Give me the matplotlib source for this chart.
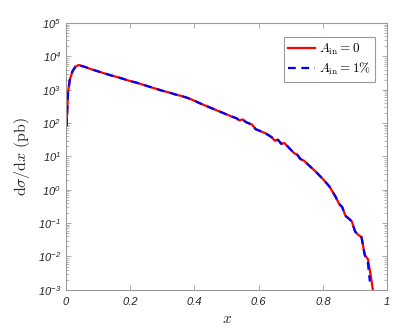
import numpy as np
import matplotlib
matplotlib.use('Agg')
import matplotlib.pyplot as plt
from matplotlib.ticker import LogLocator, FixedLocator

# 坐标轴刻度数字用斜体无衬线字体，轴标题用cm字体
plt.rcParams['mathtext.fontset'] = 'custom'
plt.rcParams['mathtext.rm'] = 'Liberation Sans:italic'
plt.rcParams['mathtext.it'] = 'Liberation Sans:italic'
plt.rcParams['font.family'] = 'Liberation Sans'

# 数据：x 与 log10(dσ/dx)
x_red = [0.002, 0.006, 0.012, 0.02, 0.03, 0.04, 0.06, 0.08, 0.10, 0.12, 0.14, 0.16, 0.18,
         0.20, 0.22, 0.24, 0.26, 0.28, 0.30, 0.32, 0.34, 0.36, 0.38, 0.40, 0.42, 0.44,
         0.46, 0.48, 0.50, 0.52, 0.53, 0.54, 0.55, 0.56, 0.58, 0.59, 0.60, 0.62, 0.64,
         0.65, 0.66, 0.67, 0.68, 0.70, 0.71, 0.72, 0.73, 0.74, 0.76, 0.78, 0.80, 0.82,
         0.84, 0.85, 0.86, 0.87, 0.88, 0.89, 0.90, 0.91, 0.92, 0.93, 0.94, 0.95, 0.957]
logy_red = [1.95, 2.9, 3.3, 3.55, 3.7, 3.74, 3.68, 3.61, 3.55, 3.49, 3.43, 3.38, 3.32,
            3.26, 3.21, 3.15, 3.09, 3.03, 2.97, 2.92, 2.86, 2.81, 2.75, 2.67, 2.58, 2.50,
            2.42, 2.34, 2.26, 2.18, 2.15, 2.08, 2.11, 2.03, 1.95, 1.82, 1.78, 1.70, 1.58,
            1.47, 1.50, 1.38, 1.40, 1.20, 1.10, 1.05, 0.92, 0.88, 0.70, 0.52, 0.32, 0.10,
            -0.22, -0.42, -0.52, -0.78, -0.86, -0.95, -1.25, -1.35, -1.42, -1.95, -2.08,
            -2.65, -3.1]
x_blue = [0.002, 0.006, 0.012, 0.02, 0.03, 0.04, 0.06, 0.08, 0.10, 0.12, 0.14, 0.16, 0.18,
          0.20, 0.22, 0.24, 0.26, 0.28, 0.30, 0.32, 0.34, 0.36, 0.38, 0.40, 0.42, 0.44,
          0.46, 0.48, 0.50, 0.52, 0.53, 0.54, 0.55, 0.56, 0.58, 0.59, 0.60, 0.62, 0.64,
          0.65, 0.66, 0.67, 0.68, 0.70, 0.71, 0.72, 0.73, 0.74, 0.76, 0.78, 0.80, 0.82,
          0.84, 0.85, 0.86, 0.87, 0.88, 0.89, 0.90, 0.91, 0.92, 0.93, 0.94, 0.946]
logy_blue = [1.9, 2.9, 3.3, 3.55, 3.7, 3.74, 3.68, 3.61, 3.55, 3.49, 3.43, 3.38, 3.32,
             3.26, 3.21, 3.15, 3.09, 3.03, 2.97, 2.92, 2.86, 2.81, 2.75, 2.67, 2.58, 2.50,
             2.42, 2.34, 2.26, 2.18, 2.15, 2.08, 2.11, 2.03, 1.95, 1.82, 1.78, 1.70, 1.58,
             1.47, 1.50, 1.38, 1.40, 1.20, 1.10, 1.05, 0.92, 0.88, 0.70, 0.52, 0.32, 0.10,
             -0.22, -0.42, -0.52, -0.78, -0.86, -0.95, -1.25, -1.35, -1.42, -1.95, -2.2,
             -2.75]

x_ticks = [0, 0.2, 0.4, 0.6, 0.8, 1]
x_ticklabels = ['0', '0.2', '0.4', '0.6', '0.8', '1']
y_exps = [-3, -2, -1, 0, 1, 2, 3, 4, 5]

gray = '#262626'
axcol = '#9a9a9a'

fig = plt.figure(figsize=(4.15, 3.29), dpi=100)
ax = fig.add_axes([0.159, 0.119, 0.774, 0.811])

ax.plot(x_red, 10 ** np.array(logy_red), color='red', lw=1.6, label=r'$A_{\rm in}=0$')
ax.plot(x_blue, 10 ** np.array(logy_blue), color='blue', lw=1.6, ls=(0, (3.5, 2.5)),
        label=r'$A_{\rm in}=1\%$')

ax.set_yscale('log')
ax.set_xlim(0, 1)
ax.set_ylim(1e-3, 1e5)

ax.xaxis.set_major_locator(FixedLocator(x_ticks))
ax.set_xticklabels(x_ticklabels, fontstyle='italic', fontsize=8, color=gray)
ax.yaxis.set_major_locator(FixedLocator([10.0 ** e for e in y_exps]))
ax.set_yticklabels([r'$10^{%d}$' % e for e in y_exps], fontsize=8, color=gray)
ax.yaxis.set_minor_locator(LogLocator(base=10, subs=np.arange(2, 10), numticks=20))

ax.tick_params(which='both', direction='in', top=True, right=True, color=axcol)
ax.tick_params(which='major', length=3.5, width=0.6)
ax.tick_params(which='minor', length=2, width=0.5)
ax.tick_params(axis='x', pad=5)
for s in ax.spines.values():
    s.set_color(axcol)
    s.set_linewidth(0.8)

ax.set_xlabel(r'$x$', fontsize=11, math_fontfamily='cm', color=gray)
ax.set_ylabel(r'$\mathrm{d}\sigma/\mathrm{d}x\ \mathrm{(pb)}$', fontsize=11.5,
              math_fontfamily='cm', color=gray)

leg = ax.legend(loc='upper right', bbox_to_anchor=(0.963, 0.948), borderaxespad=0,
                fancybox=False, prop={'size': 9.5}, handlelength=2.0,
                borderpad=0.35, labelspacing=0.3, handletextpad=0.3, framealpha=1)
leg.get_frame().set_edgecolor(axcol)
leg.get_frame().set_linewidth(0.8)
for t in leg.get_texts():
    t.set_math_fontfamily('cm')

fig.savefig('out.png', dpi=100)
